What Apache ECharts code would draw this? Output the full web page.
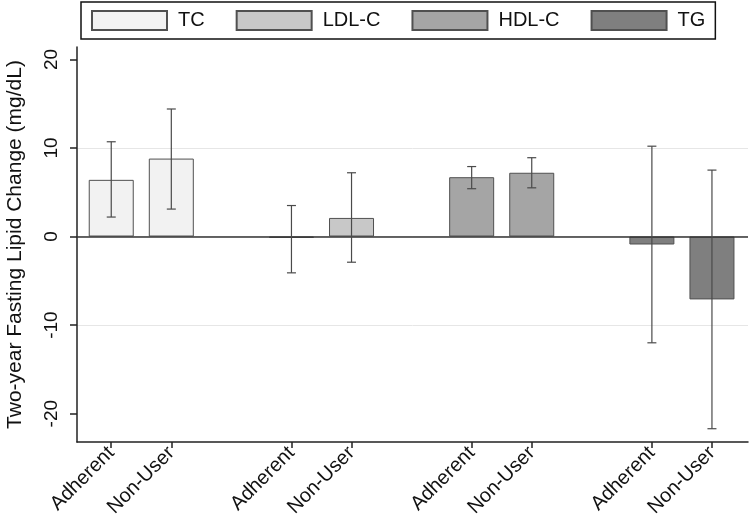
<!DOCTYPE html>
<html>
<head>
<meta charset="utf-8">
<script src="https://cdn.jsdelivr.net/npm/echarts@6/dist/echarts.min.js"></script>
<style>
  html, body { margin: 0; padding: 0; background: #fff; }
  #main { width: 750px; height: 521px; }
</style>
</head>
<body>
<div id="main"></div>
<script>
// groups on the x axis, two bars each
var groups = ["TC", "LDL-C", "HDL-C", "TG"];
var subLabels = ["Adherent", "Non-User"];
var colors = ["#f2f2f2", "#c8c8c8", "#a5a5a5", "#7f7f7f"];

// mean change (mg/dL): [Adherent, Non-User]
var tcMean = [6.4, 8.8];
var ldlMean = [-0.15, 2.1];
var hdlMean = [6.7, 7.2];
var tgMean = [-0.9, -7.1];
// 95% CI lower / upper
var tcLow = [2.2, 3.1], tcHigh = [10.7, 14.4];
var ldlLow = [-4.1, -2.9], ldlHigh = [3.5, 7.2];
var hdlLow = [5.4, 5.5], hdlHigh = [7.9, 8.9];
var tgLow = [-12.0, -21.7], tgHigh = [10.2, 7.5];

var yTicks = [-20, -10, 0, 10, 20];

var means = [tcMean, ldlMean, hdlMean, tgMean];
var lows = [tcLow, ldlLow, hdlLow, tgLow];
var highs = [tcHigh, ldlHigh, hdlHigh, tgHigh];

// each group takes 3 slots: two bars and one gap
function slot(g, k) { return g * 3 + k; }

var xTicks = [];
groups.forEach(function (g, gi) {
  subLabels.forEach(function (s, k) { xTicks.push(slot(gi, k)); });
});

var font = "'Liberation Sans', Arial, sans-serif";

var series = groups.map(function (name, gi) {
  return {
    name: name,
    type: "bar",
    barWidth: 45,
    barGap: "-100%",
    itemStyle: { color: colors[gi], borderColor: "#505050", borderWidth: 1 },
    data: means[gi].map(function (v, k) { return [slot(gi, k), v]; }),
    z: 2
  };
});

var errData = [];
groups.forEach(function (g, gi) {
  subLabels.forEach(function (s, k) {
    errData.push([slot(gi, k), lows[gi][k], highs[gi][k]]);
  });
});

series.push({
  type: "custom",
  silent: true,
  z: 5,
  encode: { x: 0, y: [1, 2] },
  data: errData,
  renderItem: function (params, api) {
    var x = api.value(0);
    var lo = api.coord([x, api.value(1)]);
    var hi = api.coord([x, api.value(2)]);
    var cap = 4.5;
    var style = { stroke: "#4a4a4a", lineWidth: 1.2 };
    return {
      type: "group",
      children: [
        { type: "line", shape: { x1: lo[0], y1: lo[1], x2: hi[0], y2: hi[1] }, style: style },
        { type: "line", shape: { x1: lo[0] - cap, y1: lo[1], x2: lo[0] + cap, y2: lo[1] }, style: style },
        { type: "line", shape: { x1: hi[0] - cap, y1: hi[1], x2: hi[0] + cap, y2: hi[1] }, style: style }
      ]
    };
  }
});

// zero reference line
series[0].markLine = {
  silent: true,
  symbol: "none",
  label: { show: false },
  lineStyle: { color: "#333", width: 1.5, type: "solid" },
  data: [{ yAxis: 0 }]
};

var chart = echarts.init(document.getElementById("main"));
chart.setOption({
  animation: false,
  backgroundColor: "#fff",
  textStyle: { fontFamily: font },
  legend: {
    left: 81,
    top: 2,
    padding: [8, 10, 8, 10],
    borderColor: "#111",
    borderWidth: 1.5,
    icon: "rect",
    itemWidth: 75,
    itemHeight: 19,
    itemGap: 31,
    data: groups,
    textStyle: { fontSize: 20, color: "#111", fontFamily: font, padding: [0, 0, 0, 6] }
  },
  grid: { left: 77, right: 2, top: 47, bottom: 79, containLabel: false, outerBoundsMode: "none" },
  xAxis: {
    type: "value",
    min: -0.57,
    max: 10.6,
    axisLine: { show: true, onZero: false, lineStyle: { color: "#222", width: 1.5 } },
    axisTick: { show: true, customValues: xTicks, length: 6, lineStyle: { color: "#222", width: 1.5 } },
    axisLabel: {
      customValues: xTicks,
      rotate: 45,
      fontSize: 20,
      color: "#111",
      margin: 8,
      formatter: function (v) { return subLabels[Math.round(v) % 3]; }
    },
    splitLine: { show: false }
  },
  yAxis: {
    type: "value",
    min: -23.2,
    max: 21.4,
    name: "Two-year Fasting Lipid Change (mg/dL)",
    nameLocation: "middle",
    nameGap: 51,
    nameTextStyle: { fontSize: 21, color: "#111", fontFamily: font },
    axisLine: { show: true, onZero: false, lineStyle: { color: "#222", width: 1.5 } },
    axisTick: { show: true, customValues: yTicks, length: 7, lineStyle: { color: "#222", width: 1.5 } },
    axisLabel: { customValues: yTicks, rotate: 90, fontSize: 19, color: "#111", margin: 16 },
    splitLine: { show: true, showMinLine: false, showMaxLine: false, lineStyle: { color: "#e6e6e6", width: 1 } }
  },
  series: series
});
</script>
</body>
</html>
